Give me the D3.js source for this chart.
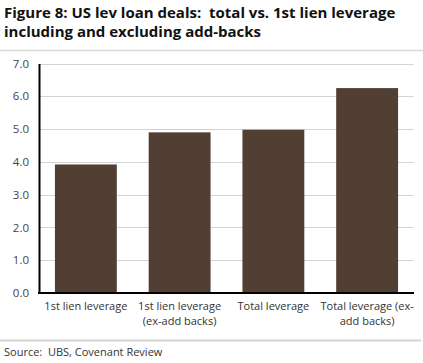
<!DOCTYPE html>
<html><head><meta charset="utf-8">
<script src="https://cdn.jsdelivr.net/npm/d3@7"></script>
<style>
body{margin:0;background:#fff;}
svg{display:block;font-family:"Open Sans",sans-serif;}
text{white-space:pre;}
</style></head>
<body><svg id="c" width="423" height="363"></svg>
<script>
const categories = [["1st lien leverage"],["1st lien leverage","(ex-add backs)"],["Total leverage"],["Total leverage (ex-","add backs)"]];
const values = [3.92, 4.9, 4.98, 6.25];
const yTicks = [0,1,2,3,4,5,6,7];

const svg = d3.select("#c");
const m = {l:39, r:414, t:63.5, b:293};
const x = d3.scaleBand().domain(d3.range(categories.length)).range([m.l, m.r]).paddingInner(0.34).paddingOuter(0.17);
const y = d3.scaleLinear().domain([0,7]).range([m.b, m.t]);

svg.append("text").attr("x",4).attr("y",18).attr("font-weight","bold").attr("font-size",15).attr("fill","#111").text("Figure 8: US lev loan deals:  total vs. 1st lien leverage");
svg.append("text").attr("x",4).attr("y",37).attr("font-weight","bold").attr("font-size",15).attr("fill","#111").text("including and excluding add-backs");
svg.append("line").attr("x1",0).attr("x2",423).attr("y1",50.5).attr("y2",50.5).attr("stroke","#d9d9d9").attr("stroke-width",1.5);

// grid
svg.append("g").selectAll("line").data(yTicks.filter(d=>d>0)).join("line")
  .attr("x1",m.l).attr("x2",m.r).attr("y1",d=>Math.round(y(d))+0.5).attr("y2",d=>Math.round(y(d))+0.5)
  .attr("stroke","#d4d4d4").attr("stroke-width",1);

// bars
svg.append("g").selectAll("rect").data(values).join("rect")
  .attr("x",(d,i)=>x(i)).attr("width",x.bandwidth())
  .attr("y",d=>y(d)).attr("height",d=>y(0)-y(d)).attr("fill","#503f32");

// y axis
const ya = svg.append("g").attr("transform",`translate(${m.l},0)`)
  .call(d3.axisLeft(y).tickValues(yTicks).tickFormat(d3.format(".1f")).tickSize(0).tickPadding(10));
ya.select(".domain").attr("stroke","#000").attr("stroke-width",2);
ya.selectAll("text").attr("font-family","Open Sans, sans-serif").attr("font-size",11.5).attr("fill","#444");

// x axis
const xa = svg.append("g").attr("transform",`translate(0,${m.b})`)
  .call(d3.axisBottom(x).tickSize(0).tickFormat(""));
xa.select(".domain").attr("stroke","#000").attr("stroke-width",2).attr("d",`M${m.l-1},0H${m.r}`);
xa.selectAll(".tick").each(function(d){
  const t = d3.select(this).append("text").attr("fill","#333").attr("font-size",11).attr("font-family","Open Sans, sans-serif").attr("text-anchor","middle");
  categories[d].forEach((ln,k)=>t.append("tspan").attr("x",0).attr("y",17+k*15).text(ln));
});

svg.append("line").attr("x1",0).attr("x2",421).attr("y1",340.5).attr("y2",340.5).attr("stroke","#d4d4d4").attr("stroke-width",2);
svg.append("text").attr("x",4).attr("y",356).attr("font-size",11).attr("fill","#333").text("Source:  UBS, Covenant Review");
</script></body></html>
